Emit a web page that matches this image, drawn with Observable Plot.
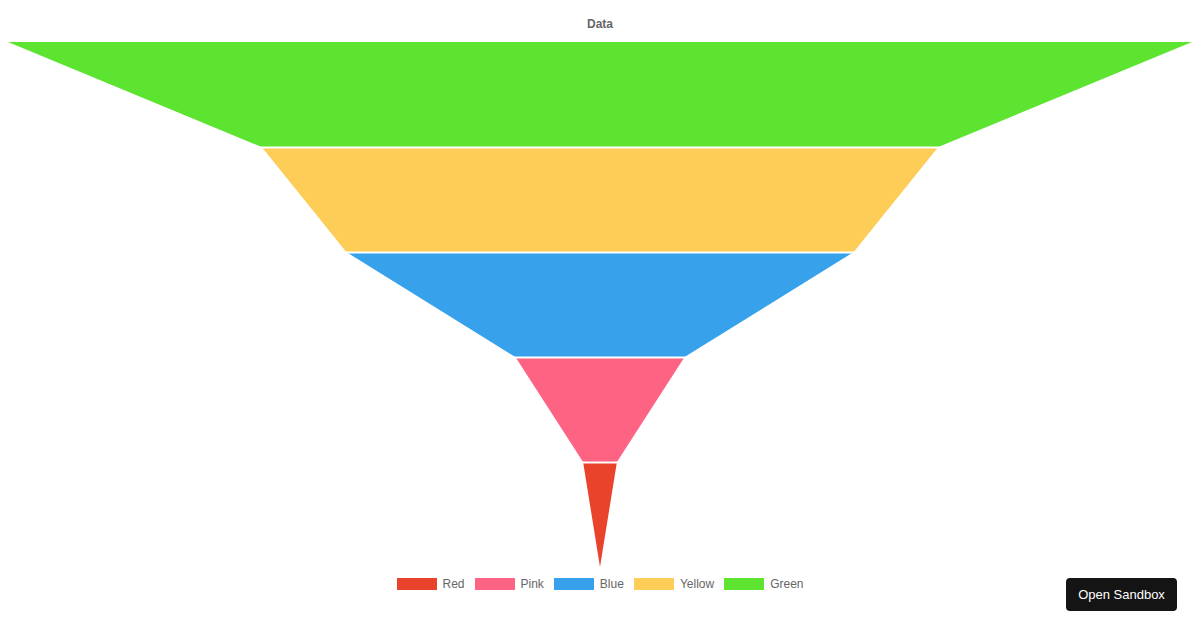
<!DOCTYPE html>
<html>
<head>
<meta charset="utf-8">
<script src="https://cdn.jsdelivr.net/npm/d3@7"></script>
<script src="https://cdn.jsdelivr.net/npm/@observablehq/plot@0.6"></script>
<style>
  html, body { margin: 0; padding: 0; background: #fff; }
  body { width: 1200px; height: 630px; position: relative; overflow: hidden;
         font-family: "Helvetica Neue", Helvetica, Arial, "Liberation Sans", sans-serif; }
  #title { height: 36px; line-height: 49px; text-align: center; font-size: 12px; font-weight: bold; color: #666; }
  #chart svg { display: block; }
  #legend { height: 24px; display: flex; justify-content: center; align-items: center; gap: 0; font-size: 12px; color: #666; }
  .item { display: flex; align-items: center; margin: 0 5px; }
  .sw { width: 40px; height: 12px; margin-right: 6px; }
  #btn { position: absolute; left: 1066px; top: 578px; width: 111px; height: 33px; background: #141414;
         border-radius: 4px; color: #fff; font-size: 13px; display: flex; align-items: center; justify-content: center; }
</style>
</head>
<body>
<div id="title">Data</div>
<div id="chart"></div>
<div id="legend"></div>
<div id="btn">Open Sandbox</div>
<script>
const labels = ["Red", "Pink", "Blue", "Yellow", "Green"];
const values = [1, 5, 15, 20, 35];
const colors = ["#e9432b", "#ff6384", "#37a2eb", "#fecd57", "#5ce431"];

// Build funnel trapezoids: Green on top, Red at the bottom.
const rows = [];
labels.forEach((name, i) => {
  const r = labels.length - 1 - i;           // row from top
  const top = values[i];
  const bottom = i > 0 ? values[i - 1] : 0;
  rows.push({name, color: colors[i], y: r, x1: -top, x2: top});
  rows.push({name, color: colors[i], y: r + 1, x1: -bottom, x2: bottom});
});
const boundaries = d3.range(1, labels.length);

const maxV = d3.max(values);
const chart = Plot.plot({
  width: 1200,
  height: 536,
  marginLeft: 8,
  marginRight: 8,
  marginTop: 6,
  marginBottom: 5,
  x: {domain: [-maxV, maxV], axis: null},
  y: {domain: [0, labels.length], reverse: true, axis: null},
  color: {type: "identity"},
  marks: [
    Plot.areaX(rows, {y: "y", x1: "x1", x2: "x2", z: "name", fill: "color"}),
    Plot.ruleY(boundaries, {stroke: "#fff", strokeWidth: 2})
  ]
});
document.getElementById("chart").appendChild(chart);

const legend = document.getElementById("legend");
labels.forEach((name, i) => {
  const it = document.createElement("div");
  it.className = "item";
  it.innerHTML = `<div class="sw" style="background:${colors[i]}"></div><span>${name}</span>`;
  legend.appendChild(it);
});
</script>
</body>
</html>
